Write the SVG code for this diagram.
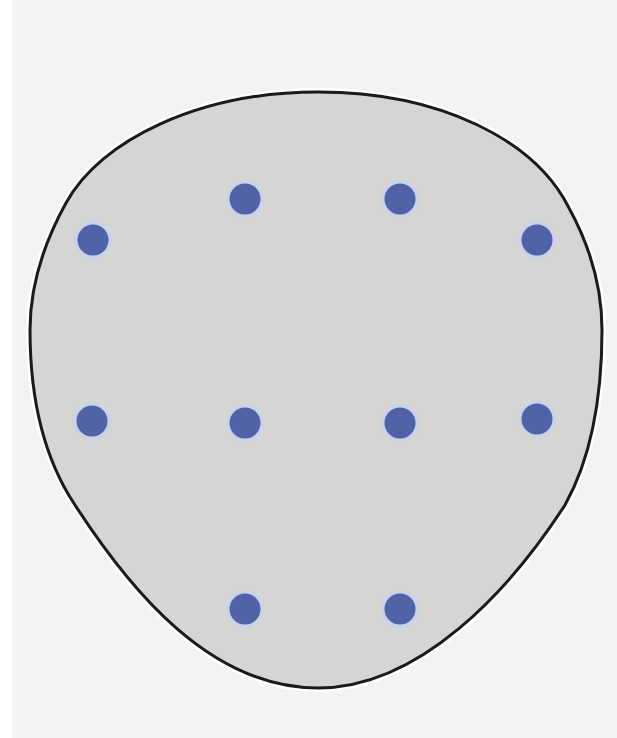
<svg xmlns="http://www.w3.org/2000/svg" width="617" height="738" viewBox="0 0 617 738">
  <style>
    .dot { fill: #4f63a6; stroke: #c8d2ea; stroke-width: 3; }
  </style>
  <rect x="0" y="0" width="617" height="738" fill="#f3f3f1"/>
  <rect x="0" y="0" width="12" height="738" fill="#ffffff"/>
  <g id="outline">
    <path d="M318,92 C200,92 100,140 66,203 C40,250 30,290 30,330 C30,400 45,460 75,505 C130,590 210,688 318,688 C420,688 510,590 565,505 C590,460 602,400 602,330 C602,290 592,250 569,208 C535,140 440,92 318,92 Z" fill="none" stroke="#ffffff" stroke-width="8"/>
    <path d="M318,92 C200,92 100,140 66,203 C40,250 30,290 30,330 C30,400 45,460 75,505 C130,590 210,688 318,688 C420,688 510,590 565,505 C590,460 602,400 602,330 C602,290 592,250 569,208 C535,140 440,92 318,92 Z" fill="#d5d5d4" stroke="#1a1a1a" stroke-width="3"/>
  </g>
  <g id="dots">
    <circle id="dot1" class="dot" cx="245" cy="199" r="17"/>
    <circle id="dot2" class="dot" cx="400" cy="199" r="17"/>
    <circle id="dot3" class="dot" cx="93" cy="240" r="17"/>
    <circle id="dot4" class="dot" cx="537" cy="240" r="17"/>
    <circle id="dot5" class="dot" cx="92" cy="421" r="17"/>
    <circle id="dot6" class="dot" cx="245" cy="423" r="17"/>
    <circle id="dot7" class="dot" cx="400" cy="423" r="17"/>
    <circle id="dot8" class="dot" cx="537" cy="419" r="17"/>
    <circle id="dot9" class="dot" cx="245" cy="609" r="17"/>
    <circle id="dot10" class="dot" cx="400" cy="609" r="17"/>
  </g>
</svg>
